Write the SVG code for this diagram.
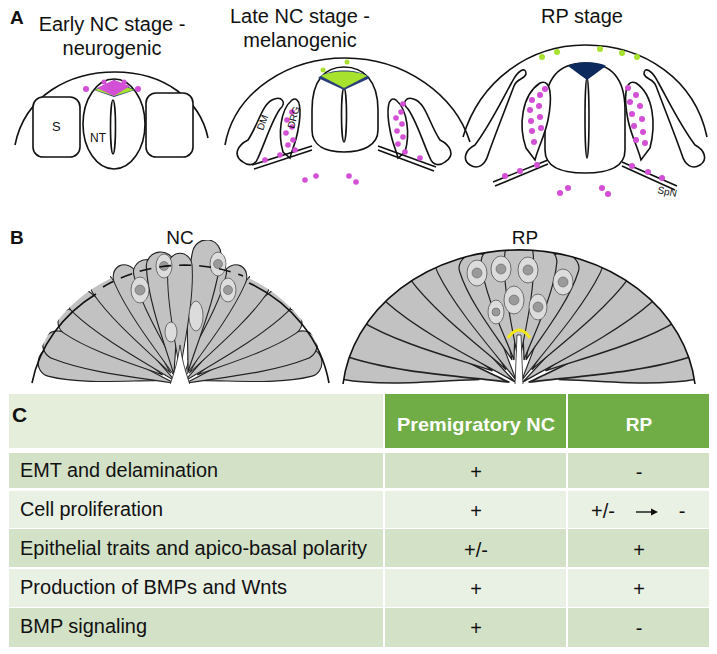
<svg xmlns="http://www.w3.org/2000/svg" width="717" height="654" viewBox="0 0 717 654">
<defs>
<style>
.t{font-family:"Liberation Sans",Arial,sans-serif;fill:#111}
.ln{fill:none;stroke:#111;stroke-width:1.6}
.sh{fill:#fff;stroke:#111;stroke-width:1.6}
.m{fill:#d24fd6}
.g{fill:#a6e22e}
.cell{fill:#c2c2c2;stroke:#222;stroke-width:0.9}
.nuc{fill:#dcdcdc;stroke:#444;stroke-width:0.7}
.nin{fill:#9a9a9a;stroke:#555;stroke-width:0.5}
.tb{font-family:"Liberation Sans",Arial,sans-serif;font-size:20px;fill:#111}
</style>
<path id="c" d="M0,0 C-3,-20 -13,-60 -11,-88 A11,11 0 0 1 11,-88 C13,-60 3,-20 0,0Z"/>
<clipPath id="ncc"><ellipse cx="180" cy="400" rx="150" ry="137"/><rect x="110" y="240" width="140" height="60"/></clipPath>
<clipPath id="rpc"><ellipse cx="519" cy="400" rx="177" ry="150"/></clipPath>
</defs>
<rect width="717" height="654" fill="#fff"/>

<g id="panelA">
<text class="t" x="10" y="24" font-size="19" font-weight="bold">A</text>
<text class="t" x="112" y="31" font-size="20" text-anchor="middle">Early NC stage -</text>
<text class="t" x="112" y="55" font-size="20" text-anchor="middle">neurogenic</text>
<text class="t" x="300" y="23" font-size="20" text-anchor="middle">Late NC stage -</text>
<text class="t" x="300" y="47" font-size="20" text-anchor="middle">melanogenic</text>
<text class="t" x="582" y="23" font-size="20" text-anchor="middle">RP stage</text>

<g id="early">
<path class="ln" d="M15,145 C25,95 70,72 115,72 C165,72 200,100 208,138"/>
<rect class="sh" x="33" y="97" width="47" height="60" rx="10"/>
<rect class="sh" x="146" y="93" width="47" height="64" rx="10"/>
<ellipse class="sh" cx="114" cy="124" rx="31" ry="45"/>
<ellipse class="sh" cx="113" cy="127" rx="2.5" ry="27"/>
<path fill="#2a3f7a" d="M94,90 L114,80 L135,90 L114,97Z"/>
<path fill="#a6e22e" d="M95,90 L114,82 L134,90 L114,96Z"/>
<path class="m" d="M97,88 L114,80 L130,86 L114,96Z"/>
<circle class="m" cx="86" cy="89" r="3"/><circle class="m" cx="138" cy="89" r="3"/>
<circle class="m" cx="104" cy="82" r="2.5"/><circle class="m" cx="124" cy="82" r="2.5"/>
<text class="t" x="52" y="131" font-size="13">S</text>
<text class="t" x="90" y="142" font-size="12">NT</text>
</g>

<g id="late">
<path class="ln" d="M225,145 C235,90 290,58 345,58 C405,58 455,95 470,142"/>
<path class="sh" d="M312,110 C312,80 325,67 344,67 C363,67 378,80 378,110 L378,130 C378,146 362,152 344,152 C326,152 312,146 312,130Z"/>
<ellipse class="sh" cx="344" cy="115" rx="2.5" ry="27"/>
<path fill="#2a3f7a" d="M318,78 C328,68 360,68 370,78 L344,90Z"/>
<path class="g" d="M321,76 C330,70 358,70 367,76 L344,88Z"/>
<circle class="g" cx="323" cy="70" r="2.5"/><circle class="g" cx="347" cy="62" r="2.5"/>
<path class="sh" d="M243,162 C232,155 238,145 248,140 C258,125 262,105 272,100 C282,95 287,103 280,109 C272,120 266,140 258,158 C255,166 248,166 243,162Z"/>
<path class="sh" d="M445,162 C456,155 450,145 440,140 C430,125 426,105 416,100 C406,95 401,103 408,109 C416,120 422,140 430,158 C433,166 440,166 445,162Z"/>
<path class="sh" d="M283,152 C278,135 280,110 292,100 C300,95 302,110 298,130 C296,142 292,150 290,158Z"/>
<path class="sh" d="M405,152 C410,135 408,110 396,100 C388,95 386,110 390,130 C392,142 396,150 398,158Z"/>
<path class="ln" d="M252,165 L312,146 M254,169 L312,150 M436,167 L378,146 M434,171 L378,150"/>
<g class="m">
<circle cx="287" cy="120" r="2.8"/><circle cx="292" cy="127" r="2.8"/><circle cx="286" cy="133" r="2.8"/><circle cx="293" cy="140" r="2.8"/><circle cx="288" cy="145" r="2.8"/><circle cx="292" cy="112" r="2.8"/>
<circle cx="401" cy="112" r="2.8"/><circle cx="396" cy="118" r="2.8"/><circle cx="402" cy="124" r="2.8"/><circle cx="397" cy="131" r="2.8"/><circle cx="403" cy="137" r="2.8"/><circle cx="398" cy="144" r="2.8"/><circle cx="403" cy="104" r="2.8"/>
<circle cx="265" cy="160" r="2.8"/><circle cx="280" cy="155" r="2.8"/><circle cx="295" cy="150" r="2.8"/><circle cx="405" cy="152" r="2.8"/><circle cx="420" cy="158" r="2.8"/>
<circle cx="305" cy="180" r="2.8"/><circle cx="316" cy="176" r="2.8"/><circle cx="349" cy="176" r="2.8"/><circle cx="356" cy="182" r="2.8"/>
</g>
<text class="t" x="0" y="0" font-size="10" transform="translate(263,131) rotate(-70)">DM</text>
<text class="t" x="0" y="0" font-size="10" transform="translate(294,129) rotate(-75)">DRG</text>
</g>

<g id="rp">
<path class="ln" d="M463,137 C480,80 530,45 585,45 C645,45 695,80 707,137"/>
<path class="sh" d="M545,110 C545,75 562,63 585,63 C608,63 625,75 625,110 L625,150 C625,168 608,173 585,173 C562,173 545,168 545,150Z"/>
<ellipse class="sh" cx="587" cy="118" rx="2" ry="40"/>
<path fill="#0d2a5e" d="M568,66 C576,61 598,61 606,66 L587,80Z"/>
<g class="g"><circle cx="542" cy="57" r="3"/><circle cx="557" cy="52" r="3"/><circle cx="600" cy="49" r="3"/><circle cx="622" cy="53" r="3"/><circle cx="637" cy="57" r="3"/></g>
<path class="sh" d="M470,165 C462,160 465,150 475,145 C490,125 502,100 512,82 C518,70 526,66 526,74 C524,80 517,78 514,86 C505,110 495,135 488,155 C485,165 478,170 470,165Z"/>
<path class="sh" d="M700,165 C708,160 705,150 695,145 C680,125 668,100 658,82 C652,70 644,66 644,74 C646,80 653,78 656,86 C665,110 675,135 682,155 C685,165 692,170 700,165Z"/>
<path class="sh" d="M526,148 C518,125 522,95 540,83 C552,78 552,100 548,120 C545,135 538,148 535,160Z"/>
<path class="sh" d="M650,148 C656,125 654,95 636,83 C624,78 624,100 628,120 C631,135 638,148 641,160Z"/>
<path class="ln" d="M493,182 L548,160 M495,186 L548,164 M677,186 L622,162 M675,190 L622,166"/>
<g class="m">
<circle cx="532" cy="100" r="3"/><circle cx="540" cy="95" r="3"/><circle cx="530" cy="110" r="3"/><circle cx="539" cy="106" r="3"/><circle cx="531" cy="121" r="3"/><circle cx="540" cy="117" r="3"/><circle cx="532" cy="131" r="3"/><circle cx="541" cy="128" r="3"/><circle cx="534" cy="142" r="3"/><circle cx="545" cy="89" r="3"/>
<circle cx="628" cy="88" r="3"/><circle cx="636" cy="95" r="3"/><circle cx="630" cy="102" r="3"/><circle cx="640" cy="106" r="3"/><circle cx="632" cy="114" r="3"/><circle cx="642" cy="119" r="3"/><circle cx="634" cy="126" r="3"/><circle cx="643" cy="132" r="3"/><circle cx="636" cy="140" r="3"/><circle cx="645" cy="143" r="3"/>
<circle cx="505" cy="176" r="3"/><circle cx="520" cy="171" r="3"/><circle cx="537" cy="165" r="3"/><circle cx="632" cy="166" r="3"/><circle cx="648" cy="172" r="3"/><circle cx="662" cy="178" r="3"/>
<circle cx="560" cy="193" r="3"/><circle cx="568" cy="188" r="3"/><circle cx="602" cy="188" r="3"/><circle cx="608" cy="194" r="3"/>
</g>
<text class="t" x="0" y="0" font-size="10" transform="translate(657,193) rotate(12)">SpN</text>
</g>
</g>

<g id="panelB">
<text class="t" x="10" y="244" font-size="19" font-weight="bold">B</text>
<text class="t" x="180" y="244" font-size="19" text-anchor="middle">NC</text>
<text class="t" x="525" y="244" font-size="19" text-anchor="middle">RP</text>
<g id="ncfan" clip-path="url(#ncc)">
<g class="cell">
<use href="#c" transform="translate(180,385) rotate(-80) translate(0,-25) scale(1.3,1.2)"/>
<use href="#c" transform="translate(180,385) rotate(-72) translate(0,-5) scale(1.3,1.4)"/>
<use href="#c" transform="translate(180,385) rotate(-60) translate(0,-20) scale(1.2,1.2)"/>
<use href="#c" transform="translate(180,385) rotate(-50) translate(0,-5) scale(1.2,1.4)"/>
<use href="#c" transform="translate(180,385) rotate(-38) translate(0,-15) scale(1.1,1.25)"/>
<use href="#c" transform="translate(180,385) rotate(-27) translate(0,-5) scale(1.1,1.3)"/>
<use href="#c" transform="translate(180,385) rotate(80) translate(0,-25) scale(1.3,1.2)"/>
<use href="#c" transform="translate(180,385) rotate(72) translate(0,-5) scale(1.3,1.4)"/>
<use href="#c" transform="translate(180,385) rotate(60) translate(0,-20) scale(1.2,1.2)"/>
<use href="#c" transform="translate(180,385) rotate(50) translate(0,-5) scale(1.2,1.4)"/>
<use href="#c" transform="translate(180,385) rotate(38) translate(0,-15) scale(1.1,1.25)"/>
<use href="#c" transform="translate(180,385) rotate(27) translate(0,-5) scale(1.1,1.3)"/>
<use href="#c" transform="translate(172,360) rotate(-16) scale(1.2,1.05)"/>
<use href="#c" transform="translate(188,360) rotate(16) scale(1.2,1.05)"/>
<use href="#c" transform="translate(174,375) rotate(-7) scale(1.3,1.25)"/>
<use href="#c" transform="translate(188,372) rotate(9) scale(1.3,1.35)"/>
<use href="#c" transform="translate(180,372) rotate(0) scale(1.1,1.2)"/>
</g>
<g class="nuc">
<ellipse cx="140" cy="290" rx="9" ry="13"/><ellipse cx="164" cy="266" rx="8" ry="12"/><ellipse cx="218" cy="264" rx="8" ry="12"/><ellipse cx="228" cy="290" rx="8" ry="12"/><ellipse cx="196" cy="316" rx="7" ry="15"/><ellipse cx="171" cy="332" rx="6" ry="10"/>
</g>
<g class="nin"><circle cx="140" cy="290" r="5"/><circle cx="164" cy="266" r="4.5"/><circle cx="218" cy="264" r="4.5"/><circle cx="228" cy="290" r="4.5"/></g>
<path d="M170,385 C175,370 178,360 180,345 C182,360 185,370 190,385Z" fill="#fff" stroke="#222" stroke-width="0.8"/>
</g>
<path class="ln" stroke-width="3" d="M32,383 A150,137 0 0 1 96,294"/>
<path class="ln" stroke-width="3" stroke-dasharray="12,8" d="M103,287 A150,137 0 0 1 243,276"/>
<path class="ln" stroke-width="3" d="M249,283 A150,137 0 0 1 329,383"/>

<g id="rpfan" clip-path="url(#rpc)">
<g class="cell">
<use href="#c" transform="translate(519,385) rotate(-82) translate(0,-40) scale(1.7,1.6)"/>
<use href="#c" transform="translate(519,385) rotate(-74) translate(0,-10) scale(1.8,1.9)"/>
<use href="#c" transform="translate(519,385) rotate(-62) translate(0,-30) scale(1.6,1.6)"/>
<use href="#c" transform="translate(519,385) rotate(-52) translate(0,-5) scale(1.5,1.7)"/>
<use href="#c" transform="translate(519,385) rotate(-40) translate(0,-20) scale(1.4,1.5)"/>
<use href="#c" transform="translate(519,385) rotate(-30) translate(0,-5) scale(1.3,1.5)"/>
<use href="#c" transform="translate(519,385) rotate(82) translate(0,-40) scale(1.7,1.6)"/>
<use href="#c" transform="translate(519,385) rotate(74) translate(0,-10) scale(1.8,1.9)"/>
<use href="#c" transform="translate(519,385) rotate(62) translate(0,-30) scale(1.6,1.6)"/>
<use href="#c" transform="translate(519,385) rotate(52) translate(0,-5) scale(1.5,1.7)"/>
<use href="#c" transform="translate(519,385) rotate(40) translate(0,-20) scale(1.4,1.5)"/>
<use href="#c" transform="translate(519,385) rotate(30) translate(0,-5) scale(1.3,1.5)"/>
<use href="#c" transform="translate(512,360) rotate(-22) scale(1.4,1.15)"/>
<use href="#c" transform="translate(526,360) rotate(22) scale(1.4,1.15)"/>
<use href="#c" transform="translate(514,360) rotate(-10) scale(1.4,1.15)"/>
<use href="#c" transform="translate(524,360) rotate(10) scale(1.4,1.15)"/>
<use href="#c" transform="translate(519,365) rotate(0) scale(1.3,1.25)"/>
</g>
<g class="nuc">
<ellipse cx="477" cy="273" rx="10" ry="13"/><ellipse cx="501" cy="269" rx="10" ry="13"/><ellipse cx="528" cy="270" rx="10" ry="13"/><ellipse cx="563" cy="282" rx="10" ry="13"/><ellipse cx="514" cy="300" rx="10" ry="14"/><ellipse cx="538" cy="307" rx="9" ry="13"/><ellipse cx="496" cy="312" rx="8" ry="12"/>
</g>
<g class="nin"><circle cx="477" cy="273" r="5"/><circle cx="501" cy="269" r="5"/><circle cx="528" cy="270" r="5"/><circle cx="563" cy="282" r="5"/><circle cx="514" cy="300" r="5"/><circle cx="538" cy="307" r="5"/><circle cx="496" cy="312" r="4"/></g>
<path d="M515,385 L517,335 L521,335 L523,385Z" fill="#fff" stroke="#222" stroke-width="0.8"/>
<path d="M508,338 Q519,322 530,338" fill="none" stroke="#f5e616" stroke-width="3"/>
</g>
<path class="ln" stroke-width="3.5" d="M343,384 A177,150 0 0 1 695,384"/>
<rect x="0" y="384" width="717" height="6" fill="#fff"/>
</g>

<g id="panelC">
<rect x="9" y="394" width="374" height="54" fill="#e4eedb"/>
<rect x="385" y="394" width="181" height="54" fill="#70ad47"/>
<rect x="568" y="394" width="141" height="54" fill="#70ad47"/>
<g fill="#d3e2c7">
<rect x="9" y="453" width="374" height="35"/><rect x="385" y="453" width="181" height="35"/><rect x="568" y="453" width="141" height="35"/>
<rect x="9" y="529" width="374" height="38"/><rect x="385" y="529" width="181" height="38"/><rect x="568" y="529" width="141" height="38"/>
<rect x="9" y="608" width="374" height="39"/><rect x="385" y="608" width="181" height="39"/><rect x="568" y="608" width="141" height="39"/>
</g>
<g fill="#e9f0e4">
<rect x="9" y="491" width="374" height="37"/><rect x="385" y="491" width="181" height="37"/><rect x="568" y="491" width="141" height="37"/>
<rect x="9" y="569" width="374" height="38"/><rect x="385" y="569" width="181" height="38"/><rect x="568" y="569" width="141" height="38"/>
</g>
<text class="t" x="12" y="422" font-size="21" font-weight="bold">C</text>
<text x="476" y="431" font-family="Liberation Sans,Arial,sans-serif" font-size="19" font-weight="bold" fill="#fff" text-anchor="middle" textLength="158" lengthAdjust="spacingAndGlyphs">Premigratory NC</text>
<text x="639" y="431" font-family="Liberation Sans,Arial,sans-serif" font-size="19" font-weight="bold" fill="#fff" text-anchor="middle">RP</text>
<text class="tb" x="20" y="477" textLength="198" lengthAdjust="spacingAndGlyphs">EMT and delamination</text>
<text class="tb" x="20" y="516" textLength="143" lengthAdjust="spacingAndGlyphs">Cell proliferation</text>
<text class="tb" x="20" y="555" textLength="347" lengthAdjust="spacingAndGlyphs">Epithelial traits and apico-basal polarity</text>
<text class="tb" x="20" y="594" textLength="267" lengthAdjust="spacingAndGlyphs">Production of BMPs and Wnts</text>
<text class="tb" x="20" y="633" textLength="127" lengthAdjust="spacingAndGlyphs">BMP signaling</text>
<g class="tb" text-anchor="middle">
<text x="476" y="479">+</text><text x="639" y="479">-</text>
<text x="476" y="518">+</text><text x="603" y="518">+/-</text><text x="682" y="518">-</text>
<text x="476" y="557">+/-</text><text x="639" y="557">+</text>
<text x="476" y="596">+</text><text x="639" y="596">+</text>
<text x="476" y="635">+</text><text x="639" y="635">-</text>
</g>
<path d="M636,512 L651,512" stroke="#111" stroke-width="1.4"/>
<path d="M651,508.5 L658,512 L651,515.5Z" fill="#111"/>
</g>
</svg>
